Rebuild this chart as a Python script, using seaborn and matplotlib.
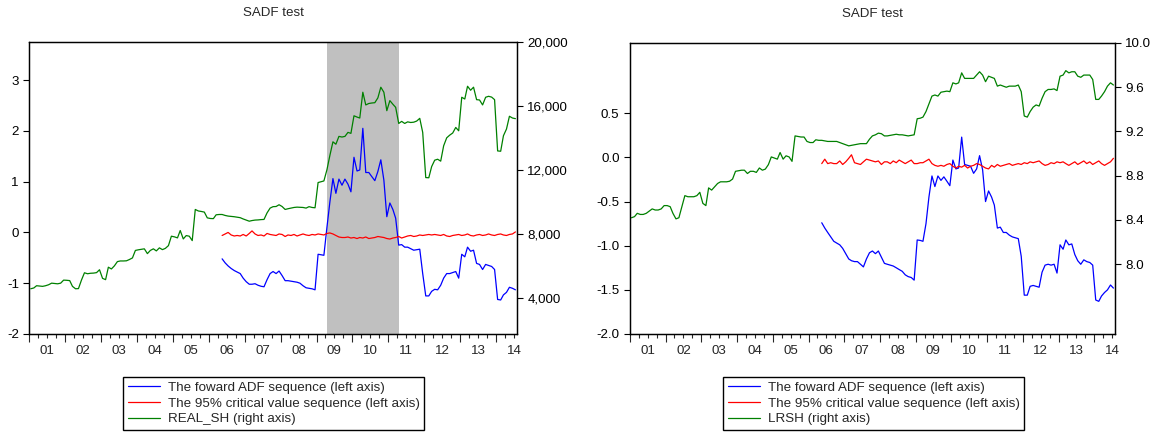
import numpy as np
import pandas as pd
import matplotlib
matplotlib.use("Agg")
import matplotlib.pyplot as plt
import seaborn as sns
from matplotlib.ticker import FuncFormatter

# monthly sample 2001M01 - 2014M07, SADF sequences start 2006M05
start_month = "2001-01-01"
n_months = 163
adf_start = 64

year_labels = ["01", "02", "03", "04", "05", "06", "07",
               "08", "09", "10", "11", "12", "13", "14"]

# left panel: real housing price, Shanghai
real_sh = [4550, 4600, 4740, 4720, 4700, 4740, 4800, 4900, 4880, 4860,
           4900, 5090, 5080, 5060, 4700, 4550, 4560, 5100, 5550, 5490,
           5520, 5530, 5560, 5740, 5200, 5120, 5900, 5790, 5980, 6250,
           6290, 6290, 6300, 6380, 6480, 6950, 6990, 7020, 7050, 6750,
           6950, 7050, 6920, 7110, 7000, 7080, 7250, 7840, 7800, 7735,
           8195, 7670, 7880, 7840, 7565, 9515, 9420, 9390, 9350, 8990,
           8950, 8940, 9180, 9200, 9200, 9140, 9100, 9080, 9060, 9030,
           9000, 8920, 8850, 8780, 8820, 8850, 8860, 8880, 8890, 9300,
           9600, 9690, 9700, 9810, 9700, 9515, 9560, 9600, 9640, 9660,
           9650, 9640, 9600, 9690, 9640, 9620, 11200, 11250, 11300, 12000,
           12900, 13750, 13600, 14090, 14050, 14090, 14340, 14280, 15380, 15300,
           15240, 16855, 16060, 16150, 16180, 16200, 16500, 17170, 16855, 15700,
           16330, 16100, 15910, 14900, 15030, 14900, 15000, 14960, 14980, 15050,
           15220, 14340, 11510, 11500, 12200, 12600, 12660, 12540, 13500, 14000,
           14170, 14300, 14650, 14440, 16540, 16430, 17230, 16980, 17170, 16390,
           16370, 16060, 16540, 16600, 16550, 16390, 13180, 13160, 14130, 14550,
           15350, 15240, 15200]

adf_sh = [-0.52, -0.60, -0.66, -0.71, -0.75, -0.78, -0.81, -0.90, -0.97, -1.02,
          -1.02, -1.01, -1.04, -1.06, -1.07, -0.93, -0.81, -0.77, -0.81, -0.76,
          -0.85, -0.95, -0.95, -0.96, -0.97, -0.98, -1.00, -1.05, -1.09, -1.10,
          -1.11, -1.13, -0.43, -0.44, -0.45, 0.10, 0.60, 1.06, 0.77, 1.05,
          0.93, 1.05, 0.95, 0.80, 1.48, 1.21, 1.23, 2.05, 1.18, 1.18,
          1.10, 1.02, 1.20, 1.43, 1.03, 0.31, 0.58, 0.45, 0.28, -0.25,
          -0.24, -0.29, -0.29, -0.32, -0.35, -0.34, -0.33, -0.81, -1.25, -1.25,
          -1.16, -1.12, -1.13, -1.04, -0.90, -0.81, -0.81, -0.79, -0.77, -0.90,
          -0.43, -0.48, -0.29, -0.37, -0.35, -0.61, -0.63, -0.73, -0.63, -0.65,
          -0.67, -0.73, -1.32, -1.33, -1.23, -1.18, -1.08, -1.10, -1.13]

cv_sh = [-0.06, -0.03, 0.00, -0.05, -0.07, -0.06, -0.07, -0.04, -0.07, -0.02,
         0.03, -0.03, -0.06, -0.05, -0.07, -0.02, -0.04, -0.05, -0.06, -0.03,
         -0.04, -0.08, -0.05, -0.06, -0.04, -0.07, -0.05, -0.03, -0.05, -0.06,
         -0.04, -0.05, -0.03, -0.04, -0.05, -0.02, -0.01, -0.03, -0.06, -0.09,
         -0.10, -0.10, -0.09, -0.11, -0.10, -0.12, -0.10, -0.11, -0.09, -0.12,
         -0.11, -0.10, -0.08, -0.09, -0.10, -0.12, -0.13, -0.11, -0.10, -0.08,
         -0.11, -0.09, -0.07, -0.06, -0.08, -0.07, -0.05, -0.06, -0.05, -0.04,
         -0.05, -0.04, -0.05, -0.06, -0.04, -0.07, -0.08, -0.06, -0.05, -0.04,
         -0.06, -0.05, -0.03, -0.06, -0.07, -0.05, -0.04, -0.06, -0.05, -0.03,
         -0.05, -0.06, -0.04, -0.03, -0.05, -0.06, -0.04, -0.03, 0.01]

# right panel: log real housing price
lrsh = [8.42, 8.43, 8.46, 8.45, 8.45, 8.46, 8.48, 8.50, 8.49, 8.49,
        8.50, 8.53, 8.53, 8.52, 8.46, 8.41, 8.42, 8.52, 8.62, 8.61,
        8.61, 8.61, 8.62, 8.65, 8.55, 8.53, 8.69, 8.67, 8.70, 8.73,
        8.745, 8.745, 8.745, 8.75, 8.77, 8.84, 8.845, 8.85, 8.85, 8.82,
        8.84, 8.84, 8.83, 8.87, 8.85, 8.86, 8.90, 8.97, 8.96, 8.95,
        9.01, 8.95, 8.98, 8.97, 8.93, 9.16, 9.155, 9.15, 9.15, 9.11,
        9.10, 9.10, 9.125, 9.12, 9.12, 9.115, 9.11, 9.11, 9.11, 9.11,
        9.10, 9.09, 9.08, 9.07, 9.075, 9.08, 9.085, 9.09, 9.09, 9.09,
        9.13, 9.16, 9.17, 9.185, 9.18, 9.16, 9.16, 9.165, 9.17, 9.175,
        9.17, 9.17, 9.165, 9.16, 9.165, 9.17, 9.315, 9.32, 9.33, 9.38,
        9.45, 9.52, 9.53, 9.52, 9.555, 9.56, 9.565, 9.56, 9.64, 9.63,
        9.64, 9.73, 9.68, 9.68, 9.68, 9.68, 9.71, 9.74, 9.71, 9.65,
        9.70, 9.69, 9.68, 9.61, 9.62, 9.61, 9.60, 9.61, 9.61, 9.61,
        9.62, 9.56, 9.34, 9.33, 9.38, 9.42, 9.44, 9.43, 9.50, 9.56,
        9.58, 9.58, 9.585, 9.57, 9.70, 9.71, 9.75, 9.73, 9.74, 9.74,
        9.70, 9.69, 9.71, 9.71, 9.71, 9.67, 9.49, 9.49, 9.52, 9.56,
        9.61, 9.64, 9.62]

adf_lrsh = [-0.74, -0.80, -0.85, -0.90, -0.95, -0.97, -0.99, -1.03, -1.09, -1.15,
            -1.17, -1.18, -1.18, -1.21, -1.24, -1.15, -1.08, -1.06, -1.09, -1.06,
            -1.13, -1.20, -1.21, -1.22, -1.23, -1.25, -1.27, -1.29, -1.33, -1.35,
            -1.36, -1.39, -0.935, -0.94, -0.95, -0.75, -0.45, -0.21, -0.33, -0.21,
            -0.26, -0.22, -0.27, -0.32, -0.03, -0.13, -0.12, 0.23, -0.08, -0.09,
            -0.10, -0.18, -0.13, 0.02, -0.14, -0.50, -0.38, -0.45, -0.54, -0.80,
            -0.79, -0.85, -0.85, -0.88, -0.90, -0.91, -0.92, -1.12, -1.56, -1.56,
            -1.46, -1.45, -1.46, -1.47, -1.30, -1.22, -1.21, -1.22, -1.21, -1.31,
            -0.99, -1.04, -0.935, -0.99, -0.98, -1.10, -1.17, -1.21, -1.16, -1.18,
            -1.19, -1.22, -1.615, -1.63, -1.57, -1.53, -1.50, -1.445, -1.48]

cv_lrsh = [-0.07, -0.02, -0.07, -0.06, -0.07, -0.07, -0.04, -0.08, -0.05, -0.01,
           0.03, -0.06, -0.07, -0.08, -0.05, -0.02, -0.03, -0.04, -0.05, -0.04,
           -0.08, -0.05, -0.05, -0.07, -0.04, -0.06, -0.03, -0.05, -0.07, -0.05,
           -0.03, -0.07, -0.07, -0.06, -0.06, -0.04, -0.02, -0.07, -0.09, -0.10,
           -0.09, -0.10, -0.08, -0.07, -0.10, -0.12, -0.10, -0.11, -0.09, -0.12,
           -0.10, -0.09, -0.07, -0.08, -0.10, -0.12, -0.13, -0.09, -0.11, -0.08,
           -0.10, -0.09, -0.08, -0.07, -0.09, -0.08, -0.07, -0.08, -0.06, -0.07,
           -0.05, -0.06, -0.05, -0.04, -0.07, -0.09, -0.08, -0.06, -0.07, -0.05,
           -0.06, -0.05, -0.07, -0.09, -0.07, -0.05, -0.08, -0.06, -0.04, -0.07,
           -0.05, -0.08, -0.06, -0.04, -0.07, -0.09, -0.07, -0.05, -0.01]

# bubble period shaded on the left panel
bubble_start = "2009-04-16"
bubble_end = "2011-04-16"

sns.set_style("ticks")
plt.rcParams["font.family"] = ["Liberation Sans", "DejaVu Sans"]
plt.rcParams["axes.unicode_minus"] = False
FS = 9.6

dates = pd.date_range(start_month, periods=n_months, freq="MS") + pd.Timedelta(days=15)
adf_dates = dates[adf_start:]
year_starts = pd.date_range("2001-01-01", "2014-01-01", freq="YS")
quarters = [d for d in pd.date_range("2001-01-01", "2014-07-01", freq="QS") if d.month != 1]
quarter_labels = []
for d in quarters:
    quarter_labels.append(year_labels[d.year - 2001] if d.month == 7 else "")


def style_axes(ax, axr):
    ax.set_xlim(pd.Timestamp("2001-01-01"), pd.Timestamp("2014-08-01"))
    ax.set_xticks(year_starts, labels=[""] * len(year_starts))
    ax.set_xticks(quarters, labels=quarter_labels, minor=True)
    ax.tick_params(axis="x", which="major", length=6, width=0.8, direction="out")
    ax.tick_params(axis="x", which="minor", length=3, width=0.8, direction="out",
                   pad=5, labelsize=FS)
    ax.tick_params(axis="y", length=4.5, width=0.8, labelsize=FS, pad=3, colors="black")
    axr.tick_params(axis="y", length=4.5, width=0.8, labelsize=FS, pad=3, colors="black")
    for a in (ax, axr):
        for sp in a.spines.values():
            sp.set_visible(True)
            sp.set_linewidth(0.9)
            sp.set_color("black")
    ax.set_xlabel("")
    ax.set_ylabel("")
    axr.set_ylabel("")
    ax.set_title("SADF test", fontsize=FS, pad=19)


def draw_panel(ax, adf, cv, level, level_name):
    axr = ax.twinx()
    sns.lineplot(x=adf_dates, y=adf, ax=ax, color="#0000FF", lw=0.9,
                 label="The foward ADF sequence (left axis)")
    sns.lineplot(x=adf_dates, y=cv, ax=ax, color="#FF0000", lw=0.9,
                 label="The 95% critical value sequence (left axis)")
    sns.lineplot(x=dates, y=level, ax=axr, color="#008000", lw=0.9,
                 label=level_name + " (right axis)")
    h1, l1 = ax.get_legend_handles_labels()
    h2, l2 = axr.get_legend_handles_labels()
    for a in (ax, axr):
        if a.get_legend() is not None:
            a.get_legend().remove()
    style_axes(ax, axr)
    return axr, h1 + h2, l1 + l2


fig = plt.figure(figsize=(11.6, 4.34), dpi=100)
ax1 = fig.add_axes([29.3 / 1160, 100 / 434, 487.7 / 1160, 292 / 434])
ax2 = fig.add_axes([630 / 1160, 100 / 434, 485 / 1160, 291 / 434])

# left panel
ax1r, handles, labels = draw_panel(ax1, adf_sh, cv_sh, real_sh, "REAL_SH")
ax1.axvspan(pd.Timestamp(bubble_start), pd.Timestamp(bubble_end),
            color="#C0C0C0", lw=0, zorder=0)
ax1.set_ylim(-2, 3.75)
ax1.set_yticks([-2, -1, 0, 1, 2, 3])
ax1r.set_ylim(1717, 20000)
ax1r.set_yticks([4000, 8000, 12000, 16000, 20000])
ax1r.yaxis.set_major_formatter(FuncFormatter(lambda v, p: f"{v:,.0f}"))
fig.legend(handles, labels, loc="upper left", bbox_to_anchor=(123 / 1160, 1 - 377 / 434),
           fontsize=FS, frameon=True, fancybox=False, edgecolor="black",
           framealpha=1, handlelength=2.4, handletextpad=0.6, labelspacing=0.25,
           borderpad=0.35, borderaxespad=0)

# right panel
ax2r, handles, labels = draw_panel(ax2, adf_lrsh, cv_lrsh, lrsh, "LRSH")
ax2.set_ylim(-2.0, 1.296)
ax2.set_yticks([-2.0, -1.5, -1.0, -0.5, 0.0, 0.5])
ax2.yaxis.set_major_formatter(FuncFormatter(lambda v, p: f"{v:.1f}"))
ax2r.set_ylim(7.369, 10.0)
ax2r.set_yticks([8.0, 8.4, 8.8, 9.2, 9.6, 10.0])
ax2r.yaxis.set_major_formatter(FuncFormatter(lambda v, p: f"{v:.1f}"))
fig.legend(handles, labels, loc="upper left", bbox_to_anchor=(723 / 1160, 1 - 377 / 434),
           fontsize=FS, frameon=True, fancybox=False, edgecolor="black",
           framealpha=1, handlelength=2.4, handletextpad=0.6, labelspacing=0.25,
           borderpad=0.35, borderaxespad=0)

fig.savefig("out.png", dpi=100)
